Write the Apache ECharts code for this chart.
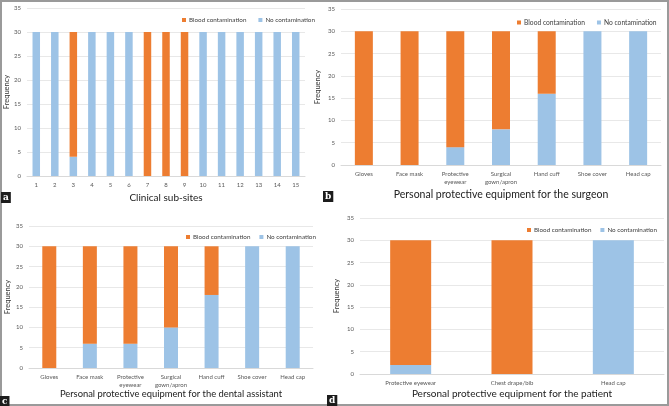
<!DOCTYPE html>
<html>
<head>
<meta charset="utf-8">
<script src="https://cdn.jsdelivr.net/npm/echarts@6/dist/echarts.min.js"></script>
<style>
  html, body { margin: 0; padding: 0; background: #fff; }
  #chart { width: 669px; height: 406px; }
</style>
</head>
<body>
<div id="chart"></div>
<script>
// panel a - clinical sub-sites
const sitesCats = ['1','2','3','4','5','6','7','8','9','10','11','12','13','14','15'];
const sitesNo    = [30, 30, 4, 30, 30, 30, 0, 0, 0, 30, 30, 30, 30, 30, 30];
const sitesBlood = [0, 0, 26, 0, 0, 0, 30, 30, 30, 0, 0, 0, 0, 0, 0];

// panel b - surgeon
const ppeCats = ['Gloves', 'Face mask', 'Protective\neyewear', 'Surgical\ngown/apron', 'Hand cuff', 'Shoe cover', 'Head cap'];
const surgeonNo    = [0, 0, 4, 8, 16, 30, 30];
const surgeonBlood = [30, 30, 26, 22, 14, 0, 0];

// panel c - dental assistant
const assistantNo    = [0, 6, 6, 10, 18, 30, 30];
const assistantBlood = [30, 24, 24, 20, 12, 0, 0];

// panel d - patient
const patientCats  = ['Protective eyewear', 'Chest drape/bib', 'Head cap'];
const patientNo    = [2, 0, 30];
const patientBlood = [28, 30, 0];

const xTitles = [
  'Clinical sub-sites',
  'Personal protective equipment for the surgeon',
  'Personal protective equipment for the dental assistant',
  'Personal protective equipment for the patient'
];
const panelLetters = ['a', 'b', 'c', 'd'];

const BLUE = '#9dc3e6';
const ORANGE = '#ed7d31';
const TXT = '#595959';
const FONT = 'Lato, "Open Sans", sans-serif';

// grid boxes in px
const grids = [
  { left: 27, top: 8, width: 278, height: 168 },
  { left: 341, top: 9, width: 320, height: 156 },
  { left: 29, top: 226, width: 284, height: 142 },
  { left: 360, top: 218, width: 304, height: 156 }
];
const cats = [sitesCats, ppeCats, ppeCats, patientCats];
const noData = [sitesNo, surgeonNo, assistantNo, patientNo];
const bloodData = [sitesBlood, surgeonBlood, assistantBlood, patientBlood];
const barW = [7.5, 18, 14, 41];
const xNameGap = [17, 24, 21, 15];
const xNameSize = [10, 10.5, 9.4, 10];
const yNameGap = [16, 19, 17, 19];
const legendSize = [6.3, 6.7, 6.3, 6.3];
const legendGap = [12, 12, 9, 9];
const legendPos = [
  { left: 177, top: 12 },
  { left: 512, top: 14 },
  { left: 181, top: 229 },
  { left: 522, top: 222 }
];
const letterPos = [[1, 192], [323, 191], [0, 396], [327, 395]];

const chart = echarts.init(document.getElementById('chart'));

const option = {
  animation: false,
  textStyle: { fontFamily: FONT },
  grid: grids.map(g => Object.assign({ containLabel: false }, g)),
  legend: legendPos.map((p, i) => ({
    left: p.left, top: p.top, width: 200, orient: 'horizontal',
    data: ['Blood contamination', 'No contamination'],
    icon: 'rect', itemWidth: 4, itemHeight: 4, itemGap: legendGap[i],
    textStyle: { fontSize: legendSize[i], color: '#404040', padding: [0, 0, 0, -2] }
  })),
  xAxis: cats.map((c, i) => ({
    type: 'category', gridIndex: i, data: c,
    axisTick: { show: false },
    axisLine: { lineStyle: { color: '#d9d9d9' } },
    axisLabel: { fontSize: 6, color: TXT, margin: 5, interval: 0, lineHeight: 8 },
    name: xTitles[i], nameLocation: 'middle', nameGap: xNameGap[i],
    nameTextStyle: { fontSize: xNameSize[i], color: '#222' }
  })),
  yAxis: grids.map((g, i) => ({
    type: 'value', gridIndex: i, min: 0, max: 35, interval: 5,
    axisLine: { show: false }, axisTick: { show: false },
    splitLine: { lineStyle: { color: '#e8e8e8' } },
    axisLabel: { fontSize: 6, color: TXT, margin: 6 },
    name: 'Frequency', nameLocation: 'middle', nameGap: yNameGap[i],
    nameTextStyle: { fontSize: 7.5, color: '#333' }
  })),
  series: [],
  graphic: [
    {
      type: 'rect', silent: true,
      shape: { x: 1, y: 1, width: 667, height: 404 },
      style: { fill: 'none', stroke: '#9a9a9a', lineWidth: 2 }
    }
  ].concat(letterPos.map((p, i) => ({
    type: 'text', left: p[0], top: p[1], silent: true,
    style: {
      text: panelLetters[i], fill: '#fff', font: 'bold 9px "DejaVu Serif", serif',
      backgroundColor: '#1c1c1c', padding: [1, 2, 1, 2]
    }
  })))
};

for (let i = 0; i < 4; i++) {
  option.series.push({
    name: 'No contamination', type: 'bar', stack: 's' + i,
    xAxisIndex: i, yAxisIndex: i, data: noData[i],
    barWidth: barW[i], itemStyle: { color: BLUE }
  });
  option.series.push({
    name: 'Blood contamination', type: 'bar', stack: 's' + i,
    xAxisIndex: i, yAxisIndex: i, data: bloodData[i],
    barWidth: barW[i], itemStyle: { color: ORANGE }
  });
}

chart.setOption(option);
</script>
</body>
</html>
